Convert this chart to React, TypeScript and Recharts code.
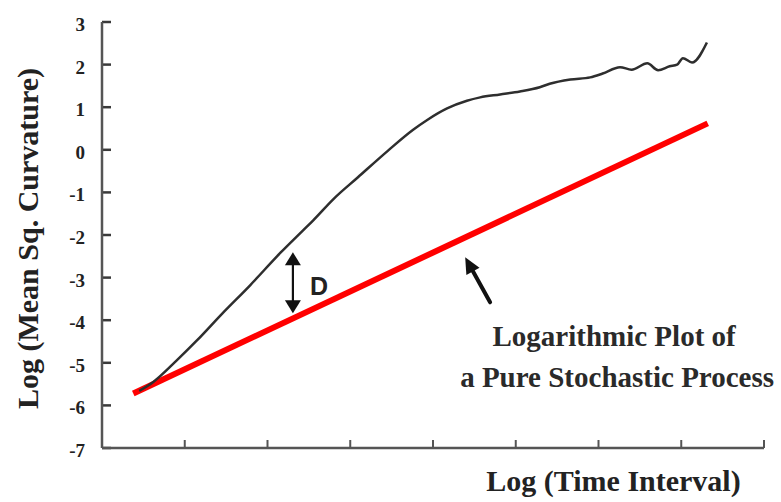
import React from 'react';
import { ComposedChart, Line, XAxis, YAxis, ReferenceLine, Label } from 'recharts';

// Measured curve (black)
const curveX = [0.45, 0.62, 0.9, 1.15, 1.45, 1.79, 2.16, 2.43, 2.55, 2.8, 3.09, 3.45, 3.76, 3.93, 4.17, 4.41, 4.57, 4.81, 5.05, 5.29, 5.41, 5.66, 5.9, 6.05, 6.26, 6.4, 6.59, 6.72, 6.86, 6.95, 7.02, 7.13, 7.31];
const curveY = [-5.66, -5.45, -4.95, -4.47, -3.85, -3.18, -2.41, -1.89, -1.66, -1.15, -0.65, -0.03, 0.47, 0.7, 0.97, 1.15, 1.23, 1.3, 1.37, 1.47, 1.55, 1.65, 1.7, 1.79, 1.94, 1.88, 2.03, 1.87, 1.96, 2.0, 2.15, 2.05, 2.52];

// Pure stochastic process (red)
const stochX = [0.378, 7.32];
const stochY = [-5.72, 0.62];

const yTicks = [3, 2, 1, 0, -1, -2, -3, -4, -5, -6, -7];
const xTicks = [1, 2, 3, 4, 5, 6, 7, 8];

const dArrow = [{ x: 2.307, y: -2.406 }, { x: 2.307, y: -3.838 }];
const pointerArrow = [{ x: 4.69, y: -3.58 }, { x: 4.389, y: -2.523 }];

const yTitle = 'Log (Mean Sq. Curvature)';
const xTitle = 'Log (Time Interval)';
const noteLines = ['Logarithmic Plot of', 'a Pure Stochastic Process'];
const dLabel = 'D';

const curveData = curveX.map((x, i) => ({ x, y: curveY[i] }));
const stochData = stochX.map((x, i) => ({ x, y: stochY[i] }));

const SERIF = "'Liberation Serif', 'Times New Roman', serif";
const SANS = "'Liberation Sans', Arial, sans-serif";
const AXIS = '#555';

function head(tx: number, ty: number, fx: number, fy: number, len: number, hw: number) {
  const dx = tx - fx;
  const dy = ty - fy;
  const d = Math.hypot(dx, dy) || 1;
  const ux = dx / d;
  const uy = dy / d;
  const bx = tx - ux * len;
  const by = ty - uy * len;
  return `${tx},${ty} ${bx - uy * hw},${by + ux * hw} ${bx + uy * hw},${by - ux * hw}`;
}

const makeYTickShape = (value: number) => (props: any) => {
  const { x1, y1 } = props;
  const ax = Math.min(x1, props.x2 ?? x1);
  return (
    <g>
      <line x1={ax} y1={y1} x2={ax + 9} y2={y1} stroke="#3a3a3a" strokeWidth={2.5} />
      <text x={ax - 17} y={y1 + 9} textAnchor="end" fontFamily={SERIF} fontWeight="bold" fontSize={19} fill="#222">
        {String(value)}
      </text>
    </g>
  );
};

const renderXTick = (props: any) => {
  const { x, y, payload } = props;
  return <line key={`xt-${payload.value}`} x1={x} y1={y} x2={x} y2={y - 8} stroke={AXIS} strokeWidth={2} />;
};

const DArrowShape = (props: any) => {
  const { x1, y1, x2, y2 } = props;
  const top = Math.min(y1, y2);
  const bot = Math.max(y1, y2);
  const x = x1;
  return (
    <g>
      <line x1={x} y1={top + 10} x2={x} y2={bot - 10} stroke="#111" strokeWidth={2.2} />
      <polygon points={head(x, top, x, bot, 13, 8)} fill="#111" />
      <polygon points={head(x, bot, x, top, 13, 8)} fill="#111" />
      <text x={x + 17} y={bot - 18} fontFamily={SANS} fontWeight="bold" fontSize={25} fill="#222">
        {dLabel}
      </text>
    </g>
  );
};

const PointerShape = (props: any) => {
  const { x1, y1, x2, y2 } = props;
  const tail = y1 > y2 ? { x: x1, y: y1 } : { x: x2, y: y2 };
  const tip = y1 > y2 ? { x: x2, y: y2 } : { x: x1, y: y1 };
  const dx = tip.x - tail.x;
  const dy = tip.y - tail.y;
  const d = Math.hypot(dx, dy) || 1;
  const ex = tip.x - (dx / d) * 12;
  const ey = tip.y - (dy / d) * 12;
  return (
    <g>
      <line x1={tail.x} y1={tail.y} x2={ex} y2={ey} stroke="#111" strokeWidth={4} strokeLinecap="round" />
      <polygon points={head(tip.x, tip.y, tail.x, tail.y, 16, 7.5)} fill="#111" />
      <text x={tail.x + 124} y={tail.y + 44} textAnchor="middle" fontFamily={SERIF} fontWeight="bold" fontSize={29} fill="#2a2a2a">
        {noteLines[0]}
      </text>
      <text x={tail.x + 127} y={tail.y + 85} textAnchor="middle" fontFamily={SERIF} fontWeight="bold" fontSize={29} fill="#2a2a2a">
        {noteLines[1]}
      </text>
    </g>
  );
};

const YTitle = (props: any) => {
  const vb = props.viewBox || {};
  const cx = 38;
  const cy = (vb.y || 22) + (vb.height || 426) / 2 + 3.5;
  return (
    <text x={cx} y={cy} transform={`rotate(-90, ${cx}, ${cy})`} textAnchor="middle" fontFamily={SERIF} fontWeight="bold" fontSize={30} fill="#222">
      {yTitle}
    </text>
  );
};

const XTitle = (props: any) => {
  const vb = props.viewBox || {};
  const cx = 613.5;
  const cy = (vb.y || 448) + 43;
  return (
    <text x={cx} y={cy} textAnchor="middle" fontFamily={SERIF} fontWeight="bold" fontSize={30} fill="#222">
      {xTitle}
    </text>
  );
};

export default function App() {
  return (
    <div style={{ position: 'absolute', left: 0, top: 0, width: 781, height: 502, background: '#fff' }}>
      <ComposedChart width={781} height={502} margin={{ top: 22, right: 17, bottom: 0, left: 0 }}>
        <XAxis
          type="number"
          dataKey="x"
          domain={[0, 8]}
          ticks={xTicks}
          interval={0}
          tick={renderXTick}
          tickLine={false}
          tickSize={0}
          tickMargin={0}
          height={54}
          stroke={AXIS}
          axisLine={{ stroke: AXIS, strokeWidth: 2.5 }}
          allowDataOverflow
        >
          <Label content={XTitle} />
        </XAxis>
        <YAxis
          type="number"
          domain={[-7, 3]}
          ticks={yTicks}
          interval={0}
          width={102}
          tick={false}
          tickLine={false}
          stroke={AXIS}
          axisLine={{ stroke: AXIS, strokeWidth: 2.5 }}
          allowDataOverflow
        >
          <Label content={YTitle} />
        </YAxis>
        {yTicks.map((v) => (
          <ReferenceLine key={`yr-${v}`} y={v} shape={makeYTickShape(v)} ifOverflow="visible" />
        ))}
        <Line
          data={stochData}
          dataKey="y"
          type="linear"
          stroke="#ff0000"
          strokeWidth={6}
          dot={false}
          activeDot={false}
          isAnimationActive={false}
        />
        <Line
          data={curveData}
          dataKey="y"
          type="monotone"
          stroke="#2e2e2e"
          strokeWidth={2.5}
          dot={false}
          activeDot={false}
          isAnimationActive={false}
        />
        <ReferenceLine segment={dArrow} shape={DArrowShape} ifOverflow="visible" />
        <ReferenceLine segment={pointerArrow} shape={PointerShape} ifOverflow="visible" />
      </ComposedChart>
    </div>
  );
}
